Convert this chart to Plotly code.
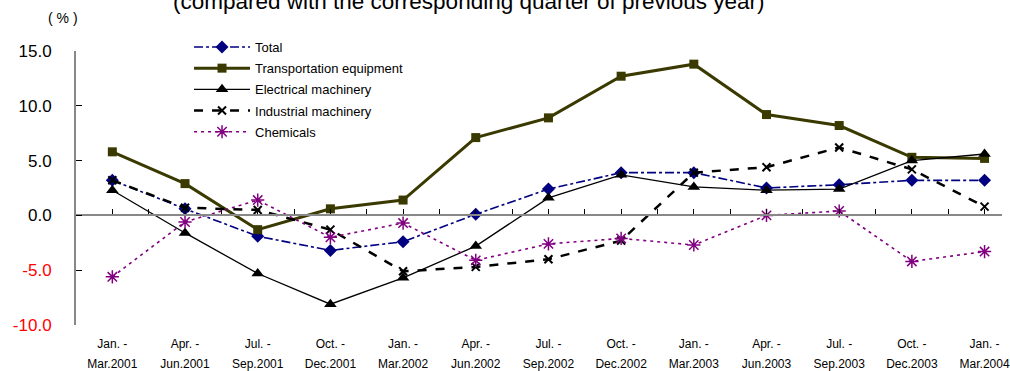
import plotly.graph_objects as go

quarters_top = ["Jan. -", "Apr. -", "Jul. -", "Oct. -", "Jan. -", "Apr. -", "Jul. -",
                "Oct. -", "Jan. -", "Apr. -", "Jul. -", "Oct. -", "Jan. -"]
quarters_bottom = ["Mar.2001", "Jun.2001", "Sep.2001", "Dec.2001", "Mar.2002", "Jun.2002",
                   "Sep.2002", "Dec.2002", "Mar.2003", "Jun.2003", "Sep.2003", "Dec.2003", "Mar.2004"]

total = [3.2, 0.6, -1.9, -3.2, -2.4, 0.1, 2.4, 3.9, 3.9, 2.5, 2.8, 3.2, 3.2]
transport = [5.8, 2.9, -1.3, 0.6, 1.4, 7.1, 8.9, 12.7, 13.8, 9.2, 8.2, 5.3, 5.2]
electrical = [2.3, -1.6, -5.3, -8.1, -5.7, -2.8, 1.6, 3.7, 2.6, 2.3, 2.4, 5.0, 5.6]
industrial = [3.2, 0.7, 0.5, -1.3, -5.1, -4.7, -4.0, -2.3, 3.9, 4.4, 6.2, 4.2, 0.8]
chemicals = [-5.6, -0.6, 1.4, -2.0, -0.7, -4.1, -2.6, -2.1, -2.7, 0.0, 0.4, -4.2, -3.3]

y_ticks = [15, 10, 5, 0, -5, -10]
y_tick_text = ["15.0", "10.0", "5.0", "0.0",
               "<span style='color:#ff0000'>-5.0</span>",
               "<span style='color:#ff0000'>-10.0</span>"]

xs = list(range(len(quarters_top)))

fig = go.Figure()
fig.add_trace(go.Scatter(x=xs, y=total, name="Total", mode="lines+markers", legendgroup="g1",
                         line=dict(color="#000080", width=1.6, dash="dashdot"),
                         marker=dict(symbol="diamond", size=10, color="#000080")))
fig.add_trace(go.Scatter(x=xs, y=transport, name="Transportation equipment", mode="lines+markers",
                         legendgroup="g2",
                         line=dict(color="#3a3a00", width=3),
                         marker=dict(symbol="square", size=9, color="#3a3a00")))
fig.add_trace(go.Scatter(x=xs, y=electrical, name="Electrical machinery", mode="lines+markers",
                         legendgroup="g3",
                         line=dict(color="#000000", width=1.3),
                         marker=dict(symbol="triangle-up", size=11, color="#000000")))
fig.add_trace(go.Scatter(x=xs, y=industrial, name="Industrial machinery", mode="lines+markers",
                         legendgroup="g4",
                         line=dict(color="#000000", width=2.5, dash="9px,9px"),
                         marker=dict(symbol="x-thin-open", size=8, color="#000000",
                                     line=dict(color="#000000", width=2))))
fig.add_trace(go.Scatter(x=xs, y=chemicals, name="Chemicals", mode="lines+markers",
                         legendgroup="g5",
                         line=dict(color="#800080", width=1.6, dash="3px,4px"),
                         marker=dict(symbol="asterisk-open", size=11, color="#800080",
                                     line=dict(color="#800080", width=1.5))))
# invisible traces to host the extra axes
fig.add_trace(go.Scatter(x=xs, y=total, xaxis="x2", mode="none", showlegend=False, hoverinfo="skip"))
fig.add_trace(go.Scatter(x=xs, y=total, xaxis="x3", mode="none", showlegend=False, hoverinfo="skip"))

xr = [-0.5, 12.24]
font_main = "Arial, 'Liberation Sans', sans-serif"

fig.update_layout(
    width=1010, height=371,
    margin=dict(l=76, r=0, t=51, b=46),
    paper_bgcolor="white", plot_bgcolor="white",
    font=dict(family=font_main, color="black"),
    showlegend=True,
    legend=dict(x=(190 - 76) / 934, y=(325 - 32) / 274, xanchor="left", yanchor="top",
                font=dict(size=13, family=font_main), bgcolor="rgba(0,0,0,0)",
                tracegroupgap=1.3, itemwidth=56),
    xaxis=dict(range=xr, tickmode="array", tickvals=xs, ticktext=quarters_top,
               showgrid=False, zeroline=False, showline=False, ticks="",
               tickfont=dict(size=12), ticklabelstandoff=10, ticklabeloverflow="allow"),
    xaxis2=dict(range=xr, overlaying="x", anchor="free", position=0.4, side="bottom",
                showline=True, linecolor="#888888", linewidth=2, ticks="inside",
                ticklen=5, tickcolor="#000000", tickwidth=1,
                tickmode="linear", tick0=-0.5, dtick=0.5,
                showticklabels=False, showgrid=False, zeroline=False),
    xaxis3=dict(range=xr, overlaying="x", anchor="y", side="bottom",
                tickmode="array", tickvals=xs, ticktext=quarters_bottom,
                showgrid=False, zeroline=False, showline=False, ticks="",
                tickfont=dict(size=12), ticklabelstandoff=30, ticklabeloverflow="allow"),
    yaxis=dict(range=[-10, 15], tickmode="array", tickvals=y_ticks, ticktext=y_tick_text,
               showgrid=False, zeroline=False, showline=True, linecolor="#888888",
               linewidth=2, ticks="inside", ticklen=6, tickcolor="#000000",
               tickfont=dict(size=17), ticklabelstandoff=19),
    annotations=[
        dict(text="(compared with the corresponding quarter of previous year)",
             xref="paper", yref="paper", x=(472 - 76) / 934, y=1.182, xanchor="center",
             yanchor="middle", showarrow=False,
             font=dict(size=22.5, family=font_main, color="black")),
        dict(text="( % )", xref="paper", yref="paper", x=(63 - 76) / 934, y=(325 - 18) / 274,
             xanchor="center", yanchor="middle", showarrow=False,
             font=dict(size=14, family=font_main, color="black")),
    ],
)

fig.write_html("out.html")
